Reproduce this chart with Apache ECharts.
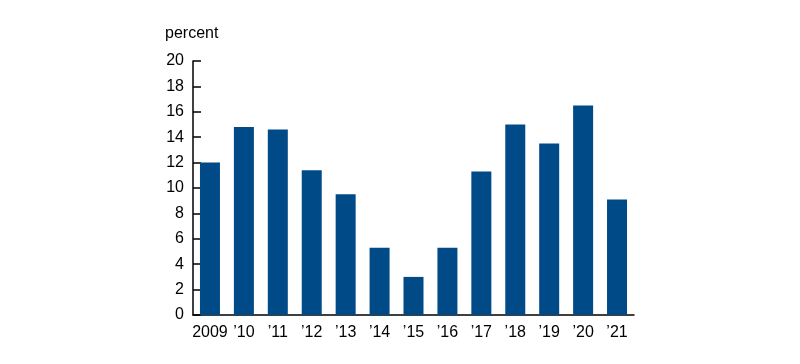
<!DOCTYPE html>
<html>
<head>
<meta charset="utf-8">
<script src="https://cdn.jsdelivr.net/npm/echarts@6/dist/echarts.min.js"></script>
<style>html,body{margin:0;padding:0;background:#fff;}#c{width:800px;height:364px;}</style>
</head>
<body>
<div id="c"></div>
<script>
const categories = ['2009', '\u201910', '\u201911', '\u201912', '\u201913', '\u201914', '\u201915', '\u201916', '\u201917', '\u201918', '\u201919', '\u201920', '\u201921'];
const values = [12.0, 14.8, 14.6, 11.4, 9.5, 5.3, 3.0, 5.3, 11.3, 15.0, 13.5, 16.5, 9.1];
const unitLabel = 'percent';

const chart = echarts.init(document.getElementById('c'));
const font = 'Liberation Sans, Arial, Helvetica, sans-serif';
chart.setOption({
  animation: false,
  grid: { left: 193, right: 166, top: 61, bottom: 49 },
  graphic: [{
    type: 'text', left: 165, top: 26,
    style: { text: unitLabel, font: '16px ' + font, fill: '#000' }
  }],
  xAxis: {
    type: 'category',
    data: categories,
    axisLine: { lineStyle: { color: '#000', width: 1.5 } },
    axisTick: { show: false },
    axisLabel: { color: '#000', fontSize: 16, fontFamily: font, margin: 10, interval: 0 }
  },
  yAxis: {
    type: 'value',
    min: 0, max: 20, interval: 2,
    splitLine: { show: false },
    axisLine: { show: true, lineStyle: { color: '#000', width: 1.5 } },
    axisTick: { show: true, inside: true, length: 8, lineStyle: { color: '#000', width: 1.5 } },
    axisLabel: { color: '#000', fontSize: 16, fontFamily: font, margin: 9 }
  },
  series: [{
    type: 'bar',
    data: values,
    barWidth: 20,
    itemStyle: { color: '#004a87' }
  }]
});
</script>
</body>
</html>
